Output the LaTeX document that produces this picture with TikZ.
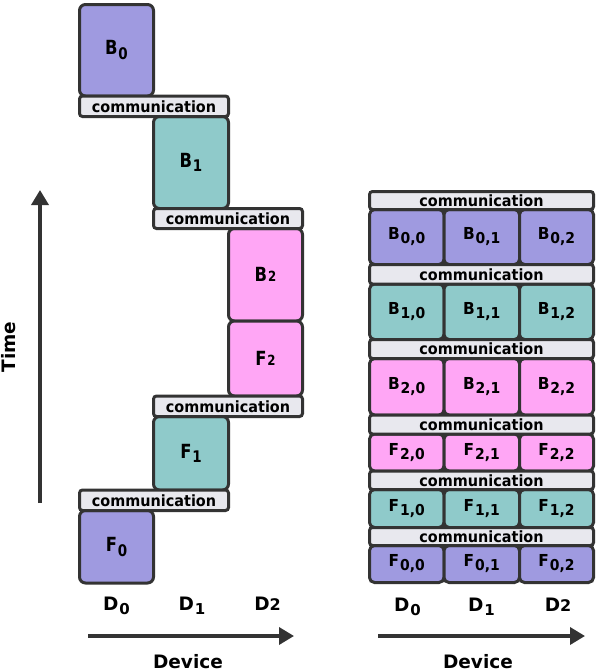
\documentclass[tikz,border=0pt]{standalone}
\usepackage{fontspec}
\setmainfont{DejaVu Sans}
\usetikzlibrary{arrows.meta}
\definecolor{purp}{HTML}{9F9AE0}
\definecolor{tealc}{HTML}{8FCACA}
\definecolor{pinkc}{HTML}{FFA6F5}
\definecolor{commc}{HTML}{E8E8EE}
\definecolor{dark}{HTML}{333333}
\newcommand\sq[1]{\scalebox{0.93}[1]{#1}}
\newcommand\sqL[1]{\scalebox{0.84}[1]{#1}}
\newcommand\subL[1]{\kern1pt\raisebox{-4.5pt}{\fontsize{16}{16}\selectfont #1}}
\newcommand\smL[1]{\kern1pt{\fontsize{14}{14}\selectfont #1}}
\newcommand\subS[1]{\kern1pt\raisebox{-4pt}{\fontsize{15}{15}\selectfont #1}}
\newcommand\subD[1]{\kern1pt\raisebox{-4pt}{\fontsize{15}{15}\selectfont #1}}
\begin{document}
\begin{tikzpicture}[x=1pt,y=-1pt,
  blk/.style={draw=dark, line width=3pt, rounded corners=6pt, inner sep=0pt,
    font=\bfseries\fontsize{19.5}{20}\selectfont},
  sblk/.style={draw=dark, line width=3pt, rounded corners=5pt, inner sep=0pt,
    font=\bfseries\fontsize{16.5}{17}\selectfont},
  commbar/.style={draw=dark, fill=commc, line width=3pt, rounded corners=3pt, inner sep=0pt,
    font=\bfseries\fontsize{15.5}{15.5}\selectfont},
  lbl/.style={font=\bfseries\fontsize{18.5}{19}\selectfont, text=black, inner sep=0pt},
  axis/.style={draw=dark, line width=3.5pt, -{Triangle[length=15pt,width=17pt]}}]
\useasboundingbox (0,0) rectangle (598,672);

% ---------- left: pipeline ----------
\node[blk, fill=purp, minimum width=74, minimum height=91.5] (B0) at (116.5,50.25) {\sqL{B\subL{0}}};
\node[blk, fill=tealc, minimum width=75, minimum height=92] (B1) at (191,162.5) {\sqL{B\subL{1}}};
\node[blk, fill=pinkc, minimum width=74, minimum height=92.5] (B2) at (265.5,274.75) {\sqL{B\smL{2}}};
\node[blk, fill=pinkc, minimum width=74, minimum height=75] (F2) at (265.5,358.5) {\sqL{F\smL{2}}};
\node[blk, fill=tealc, minimum width=75, minimum height=73.5] (F1) at (191,453.25) {\sqL{F\subL{1}}};
\node[blk, fill=purp, minimum width=74, minimum height=72.5] (F0) at (116.5,546.75) {\sqL{F\subL{0}}};
\node[commbar, minimum width=149, minimum height=20.5] (c1) at (154,106.25) {\sq{communication}};
\node[commbar, minimum width=149, minimum height=20] (c2) at (228,218.5) {\sq{communication}};
\node[commbar, minimum width=149, minimum height=20.5] (c3) at (228,406.25) {\sq{communication}};
\node[commbar, minimum width=149, minimum height=20.5] (c4) at (154,500.25) {\sq{communication}};

% ---------- right: parallel ----------
\foreach \n/\c/\L/\i/\ya/\yb in {B0/purp/B/0/209.5/264.5, B1/tealc/B/1/284/339.5,
    B2/pinkc/B/2/358.5/415, F2/pinkc/F/2/434/471, F1/tealc/F/1/489.5/527.5,
    F0/purp/F/0/545.5/582.5}{
  \foreach \j/\xa/\xb in {0/369.5/444, 1/444/519.5, 2/519.5/593.5}{
    \node[sblk, fill=\c, minimum width={\xb-\xa}, minimum height={\yb-\ya}]
      (R\n\j) at ({(\xa+\xb)/2},{(\ya+\yb)/2}) {\sq{\L\subS{\i,\j}}};
  }
}
\foreach \k/\ya/\yb in {0/191.5/209.5, 1/264.5/284, 2/339.5/358.5, 3/415/434,
    4/471/489.5, 5/527.5/545.5}{
  \node[commbar, minimum width=224, minimum height={\yb-\ya}]
    (rc\k) at ({481.5},{(\ya+\yb)/2}) {\sq{communication}};
}

% ---------- axes and labels ----------
\coordinate (t0) at (40,503);
\coordinate (t1) at (40,190);
\draw[axis] (t0) -- (t1);
\node[lbl, rotate=90] (time) at (9,347) {Time};

\node[lbl, anchor=base] (lD0) at (116.5,610) {D\subD{0}};
\node[lbl, anchor=base] (lD1) at (192,610) {D\subD{1}};
\node[lbl, anchor=base] (lD2) at (267.5,610) {D{\fontsize{16}{16}\selectfont 2}};
\coordinate (la0) at (88,636);
\coordinate (la1) at (294,636);
\draw[axis] (la0) -- (la1);
\node[lbl, anchor=base] (ldev) at (188,668) {Device};

\node[lbl, anchor=base] (rD0) at (407.5,611) {D\subD{0}};
\node[lbl, anchor=base] (rD1) at (481.5,611) {D\subD{1}};
\node[lbl, anchor=base] (rD2) at (558,611) {D{\fontsize{16}{16}\selectfont 2}};
\coordinate (ra0) at (378,636);
\coordinate (ra1) at (585,636);
\draw[axis] (ra0) -- (ra1);
\node[lbl, anchor=base] (rdev) at (478,668) {Device};
\end{tikzpicture}
\end{document}
